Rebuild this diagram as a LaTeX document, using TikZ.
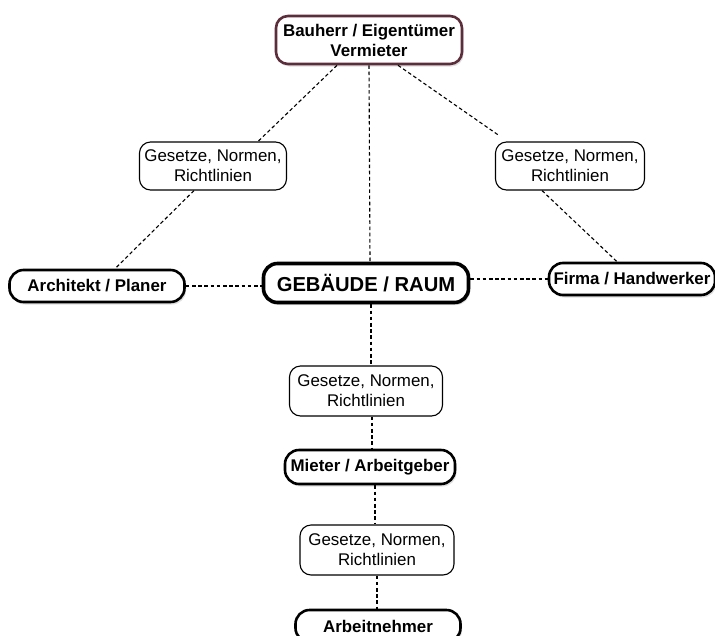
\documentclass[tikz,border=0pt]{standalone}
\usepackage{fontspec}
\setmainfont{Liberation Sans}
\usetikzlibrary{shadows,calc}
\definecolor{maroon}{RGB}{92,46,60}
\begin{document}
\begin{tikzpicture}[x=1pt,y=-1pt,
  base/.style={draw=black,fill=white,rounded corners=11pt,align=center,inner sep=0pt,
    font=\fontsize{16.9}{20}\selectfont},
  law/.style={base,line width=1.1pt},
  main/.style={base,line width=2.6pt,font=\fontsize{16.9}{20}\selectfont\bfseries,rounded corners=14pt,
    drop shadow={shadow xshift=1.5pt,shadow yshift=-2.5pt,opacity=0.25}},
  link/.style={draw=black,line width=1.1pt,dash pattern=on 3.6pt off 2.6pt}]
\useasboundingbox (0,0) rectangle (715,635);
\node[main,draw=maroon,rounded corners=12pt,minimum width=186pt,minimum height=48pt] (bau) at (369,40) {Bauherr / Eigentümer\\Vermieter};
\node[law,minimum width=147pt,minimum height=48pt] (gl) at (213,166) {Gesetze, Normen,\\Richtlinien};
\node[law,minimum width=149pt,minimum height=48pt] (gr) at (570,166) {Gesetze, Normen,\\Richtlinien};
\node[main,minimum width=175pt,minimum height=32pt] (arch) at (97,286) {Architekt / Planer};
\node[main,line width=3.6pt,minimum width=205pt,minimum height=39pt,font=\fontsize{20.2}{24}\selectfont\bfseries] (geb) at (366,283) {GEBÄUDE / RAUM};
\node[main,minimum width=166pt,minimum height=32pt] (firma) at (632,279) {Firma / Handwerker};
\node[law,minimum width=153pt,minimum height=50pt] (gm) at (366,391) {Gesetze, Normen,\\Richtlinien};
\node[main,minimum width=170pt,minimum height=34pt] (mieter) at (370,467) {Mieter / Arbeitgeber};
\node[law,minimum width=154pt,minimum height=50pt] (glow) at (377,550) {Gesetze, Normen,\\Richtlinien};
\node[main,minimum width=165pt,minimum height=32pt] (arbeit) at (378,626) {Arbeitnehmer};
\path[link] ([xshift=-32pt]bau.south) -- ([xshift=45pt]gl.north);
\path[link] ([xshift=29pt]bau.south) -- ([shift={(4pt,6pt)}]gr.north west);
\path[link] (bau.south) -- ([xshift=4pt]geb.north);
\path[link] ([xshift=-19pt]gl.south) -- ([xshift=18pt]arch.north);
\path[link] ([xshift=-28pt]gr.south) -- ([xshift=-15pt]firma.north);
\path[link] (arch.east) -- (arch.east -| geb.west);
\path[link] (firma.west -| geb.east) -- (firma.west);
\path[link] ([xshift=5pt]geb.south) -- ([xshift=5pt]gm.north);
\path[link] ([xshift=6pt]gm.south) -- ([xshift=2pt]mieter.north);
\path[link] ([xshift=5pt]mieter.south) -- ([xshift=-2pt]glow.north);
\path[link] (glow.south) -- ([xshift=-1pt]arbeit.north);
\end{tikzpicture}
\end{document}
